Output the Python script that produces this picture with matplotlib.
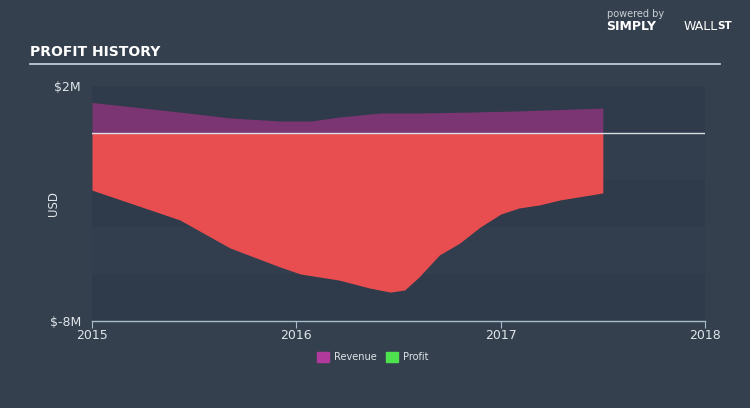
import numpy as np
import matplotlib.pyplot as plt
from matplotlib.patches import Rectangle

# values (years, millions USD)
rev_x = [2015.0, 2015.43, 2015.675, 2015.92, 2016.07, 2016.21, 2016.41, 2016.6, 2016.85, 2017.09, 2017.5]
revenue = [1.30, 0.89, 0.64, 0.51, 0.51, 0.68, 0.85, 0.85, 0.89, 0.94, 1.06]

prof_x = [2015.0, 2015.43, 2015.675, 2015.92, 2016.02, 2016.21, 2016.36, 2016.46, 2016.53,
          2016.6, 2016.7, 2016.8, 2016.9, 2017.0, 2017.09, 2017.19, 2017.29, 2017.5]
profit = [-2.43, -3.70, -4.89, -5.70, -6.0, -6.26, -6.6, -6.77, -6.68,
          -6.13, -5.19, -4.68, -4.0, -3.45, -3.19, -3.06, -2.85, -2.55]

x_ticks = [2015, 2016, 2017, 2018]
y_ticks = [2, -8]
y_labels = ['$2M', '$-8M']

bg = '#34404e'
plot_bg = '#2f3b4a'
txt = '#dfe5ea'

fig = plt.figure(figsize=(7.5, 4.08), dpi=100, facecolor=bg)
ax = fig.add_axes([92/750, 87/408, 613/750, 235/408])
ax.set_facecolor(plot_bg)

# very subtle horizontal bands
for i, lo in enumerate(range(-8, 2, 2)):
    ax.axhspan(lo, lo + 2, color='#2f3b4a' if i % 2 == 0 else '#323e4d', lw=0, zorder=0)

ax.fill_between(prof_x, 0, profit, color='#e84e4f', lw=0, zorder=2)
ax.fill_between(rev_x, 0, revenue, color='#7c3573', lw=0, zorder=2)
ax.axhline(0, color='#d8dde2', lw=1, zorder=3)

ax.set_xlim(2015, 2018)
ax.set_ylim(-8, 2)
for s in ['top', 'right', 'left']:
    ax.spines[s].set_visible(False)
ax.spines['bottom'].set_color('#a9bccb')
ax.spines['bottom'].set_linewidth(1)

ax.set_xticks(x_ticks)
ax.set_xticklabels([str(t) for t in x_ticks])
ax.tick_params(axis='x', colors='#a9bccb', length=5, direction='out', labelcolor=txt, labelsize=9, pad=1)
ax.set_yticks(y_ticks)
ax.set_yticklabels(y_labels)
ax.tick_params(axis='y', length=0, labelcolor=txt, labelsize=9, pad=8)
ax.set_ylabel('USD', color=txt, fontsize=8.5)
ax.yaxis.set_label_coords(-0.052, 0.5)

# title and rule
fig.text(30/750, 1 - 52/408, 'PROFIT HISTORY', color='white', fontsize=10, fontweight='bold',
         va='center', ha='left')
fig.add_artist(plt.Line2D([30/750, 720/750], [1 - 64/408, 1 - 64/408], color='#c8d8e4', lw=1.2))

# logo text
fig.text(607/750, 1 - 14/408, 'powered by', color='#c9d0d6', fontsize=7, va='center', ha='left')
fig.text(606/750, 1 - 27/408, 'SIMPLY', color='white', fontsize=9, fontweight='bold', va='center', ha='left')
fig.text(684/750, 1 - 27/408, 'WALL', color='white', fontsize=9, va='center', ha='left')
fig.text(717/750, 1 - 26/408, 'ST', color='white', fontsize=7.5, fontweight='bold', va='center', ha='left')

# legend
fig.add_artist(Rectangle((317/750, 1 - 362/408), 12/750, 10/408, color='#b03a9c', transform=fig.transFigure))
fig.text(334/750, 1 - 357/408, 'Revenue', color=txt, fontsize=7, va='center', ha='left')
fig.add_artist(Rectangle((386/750, 1 - 362/408), 12/750, 10/408, color='#4ee24e', transform=fig.transFigure))
fig.text(403/750, 1 - 357/408, 'Profit', color=txt, fontsize=7, va='center', ha='left')

fig.savefig('out.png', dpi=100, facecolor=bg)
